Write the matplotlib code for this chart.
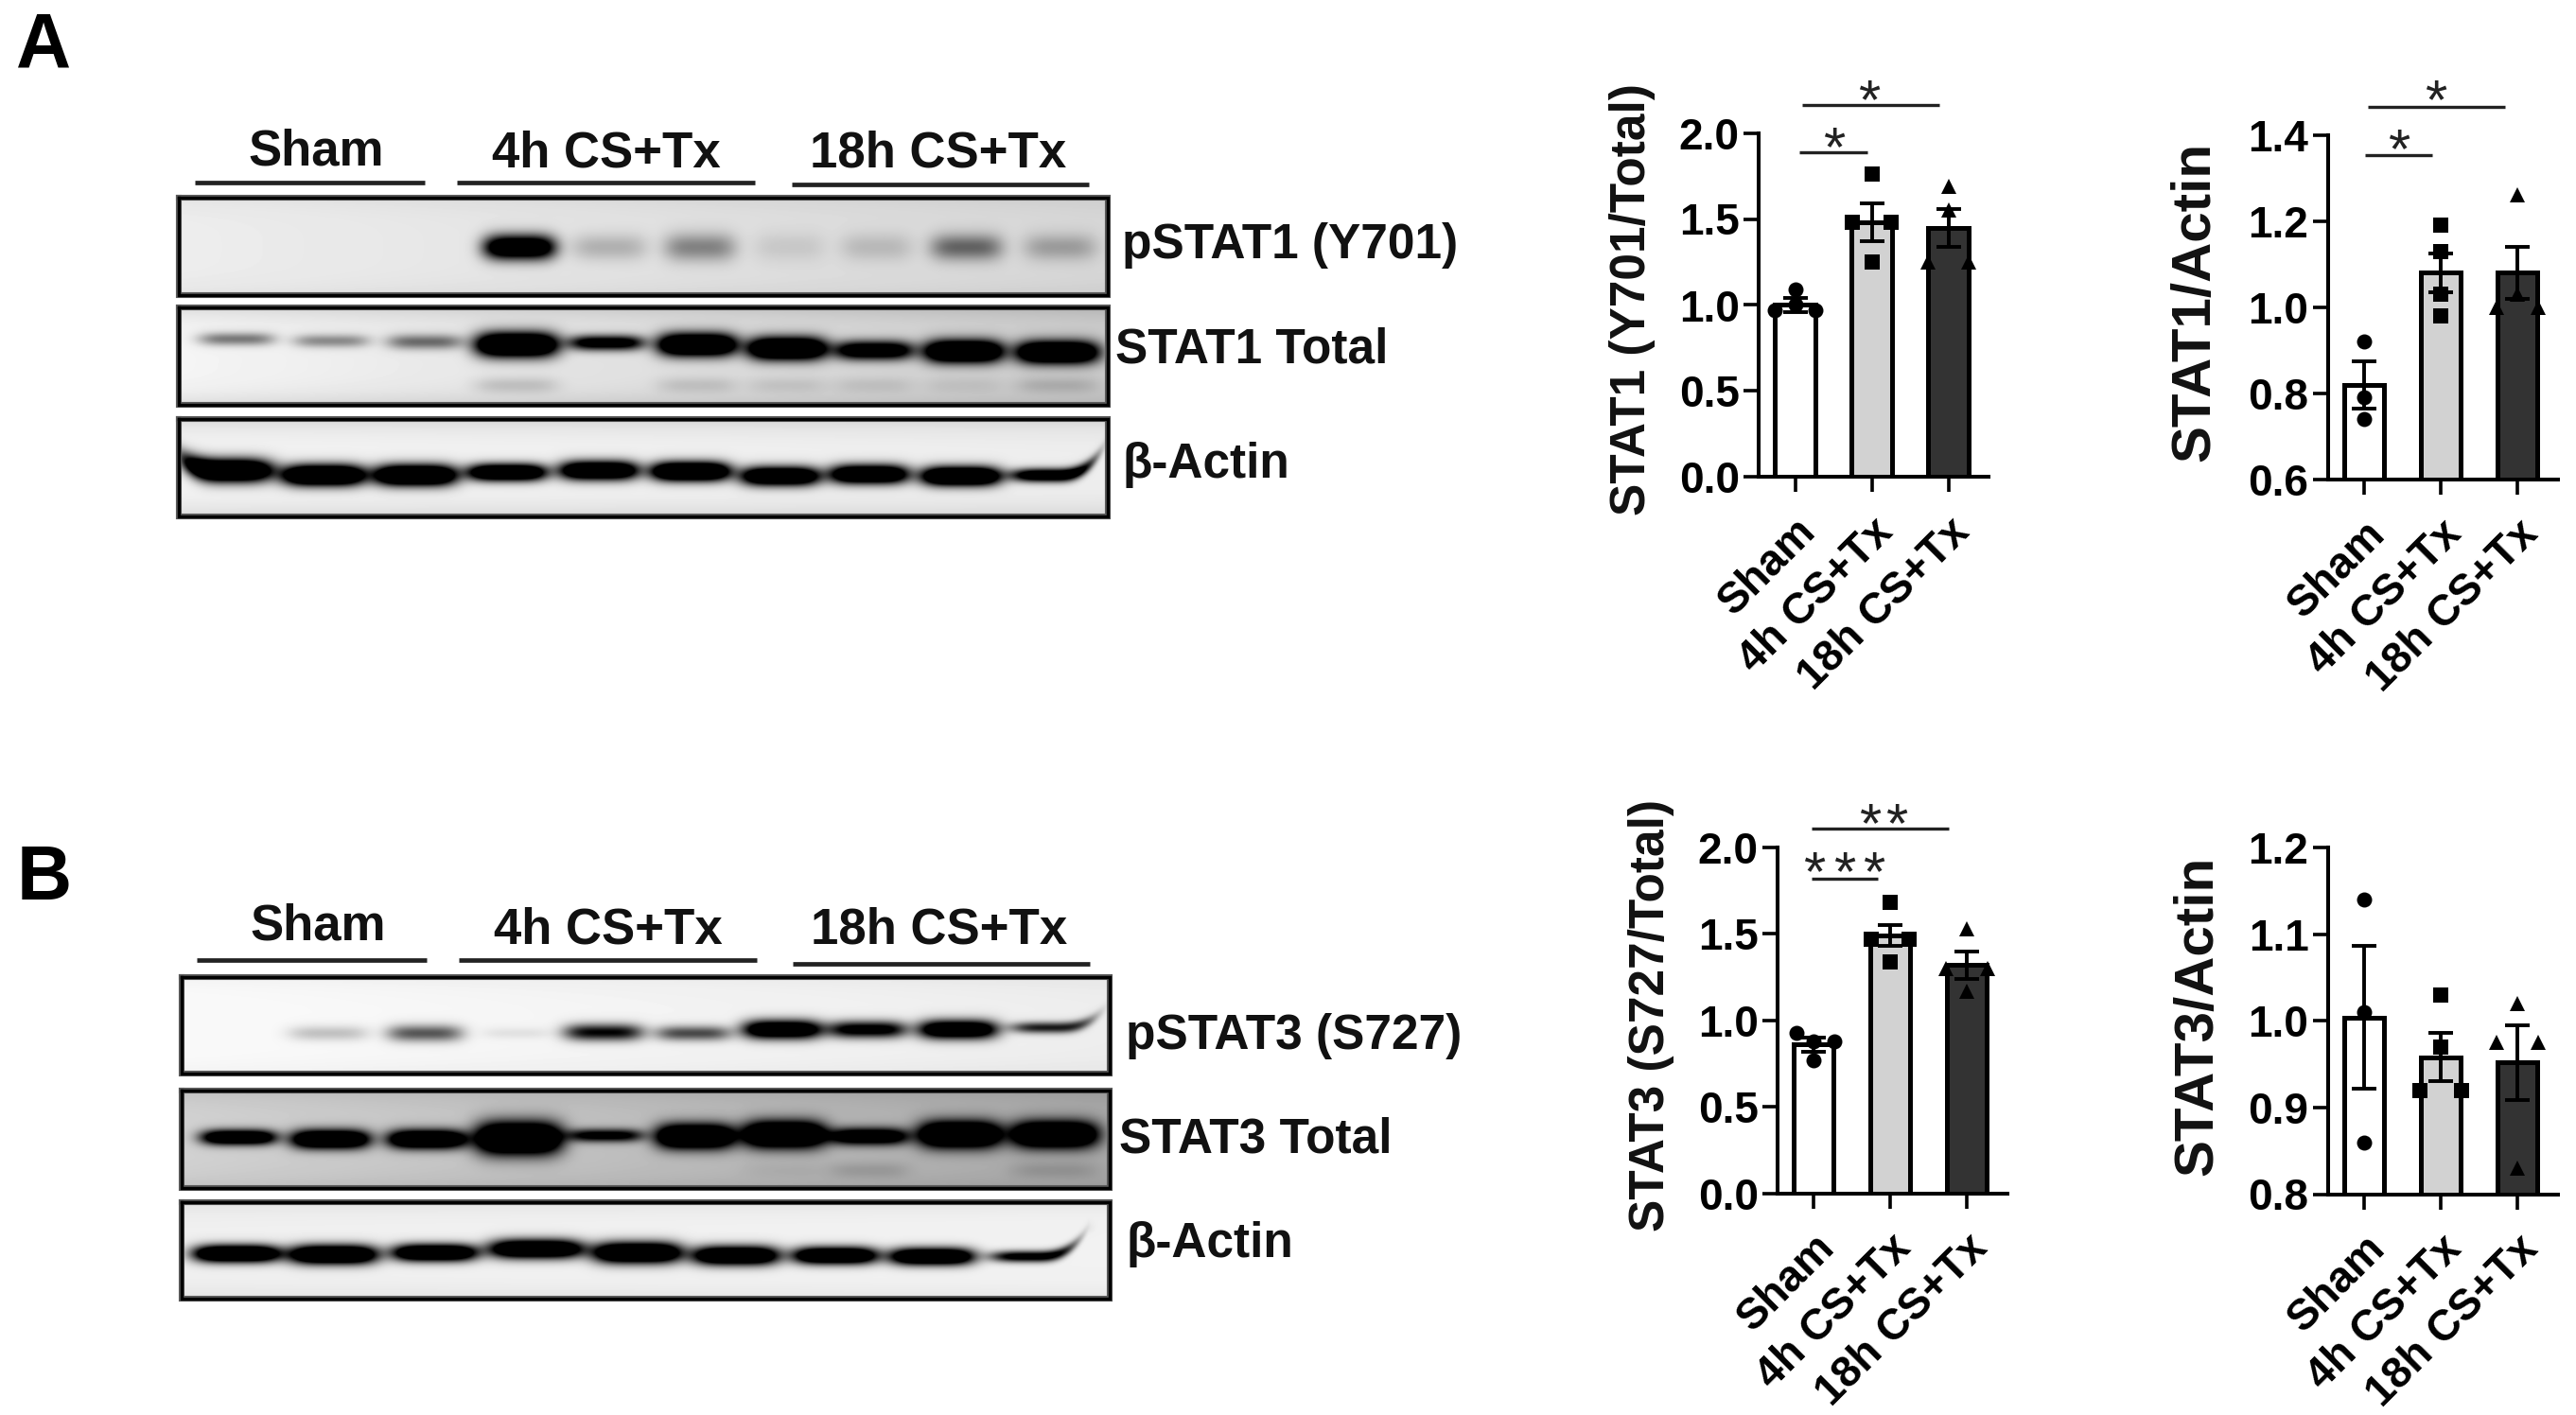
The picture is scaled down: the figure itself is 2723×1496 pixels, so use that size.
import numpy as np
import matplotlib
matplotlib.use("Agg")
import matplotlib.pyplot as plt

plt.rcParams['font.family'] = ['Liberation Sans', 'DejaVu Sans']
plt.rcParams['font.weight'] = 'bold'

W, H = 2723, 1496
fig = plt.figure(figsize=(W / 100, H / 100), dpi=100)
page = fig.add_axes([0, 0, 1, 1])
page.set_xlim(0, W)
page.set_ylim(H, 0)
page.axis('off')

# ---------------- chart values ----------------
GROUPS = ['Sham', '4h CS+Tx', '18h CS+Tx']
BAR_COLORS = ['white', '#d2d2d2', '#333333']
MARKERS = ['o', 's', '^']

# STAT1 (Y701/Total)
s1t_means = [1.00, 1.48, 1.45]
s1t_sem = [0.04, 0.11, 0.11]
s1t_pts = [[1.09, 1.00, 0.97, 0.97], [1.76, 1.48, 1.48, 1.25], [1.69, 1.55, 1.25, 1.25]]
# STAT1/Actin
s1a_means = [0.82, 1.08, 1.08]
s1a_sem = [0.055, 0.045, 0.06]
s1a_pts = [[0.92, 0.79, 0.74], [1.19, 1.13, 1.03, 0.98], [1.26, 1.03, 1.00, 1.00]]
# STAT3 (S727/Total)
s3t_means = [0.86, 1.49, 1.32]
s3t_sem = [0.04, 0.06, 0.08]
s3t_pts = [[0.93, 0.88, 0.88, 0.77], [1.68, 1.47, 1.47, 1.34], [1.53, 1.30, 1.30, 1.17]]
# STAT3/Actin
s3a_means = [1.004, 0.958, 0.952]
s3a_sem = [0.082, 0.028, 0.043]
s3a_pts = [[1.14, 1.01, 0.86], [1.03, 0.97, 0.92, 0.92], [1.02, 0.975, 0.975, 0.83]]

# blot band intensities, one per lane
pstat1_int = [0.0, 0.0, 0.0, 1.6, 0.22, 0.42, 0.1, 0.16, 0.55, 0.28]
stat1_int = [0.5, 0.42, 0.55, 2.0, 1.3, 2.0, 2.0, 1.5, 2.0, 2.0]
stat1_low = [0, 0, 0, 0.16, 0, 0.13, 0.1, 0.1, 0.08, 0.16]
actin1_int = [2.0, 2.0, 2.0, 1.8, 1.8, 2.0, 1.8, 1.8, 2.0, 1.5]
pstat3_int = [0.0, 0.22, 0.65, 0.08, 1.0, 0.7, 1.6, 1.2, 1.6, 0.9]
stat3_int = [1.7, 1.9, 1.9, 2.2, 1.2, 2.1, 2.2, 1.6, 2.2, 2.2]
stat3_low = [0, 0, 0, 0, 0, 0, 0.05, 0.14, 0, 0.14]
actin3_int = [1.9, 1.9, 1.8, 1.8, 1.9, 1.8, 1.8, 1.8, 1.2]

BLOT_LABELS_A = ['pSTAT1 (Y701)', 'STAT1 Total', 'β-Actin']
BLOT_LABELS_B = ['pSTAT3 (S727)', 'STAT3 Total', 'β-Actin']


# ---------------- blots ----------------
def blot(box, bg, lanes, ints, y0, hw, hh, low=None, low_y=0, curl=None):
    x0, x1, yt, yb = box
    xx, yy = np.meshgrid(np.arange(x0, x1), np.arange(yt, yb))
    fx = (xx - x0) / (x1 - x0)
    fy = (yy - yt) / (yb - yt)
    base = bg[0] + (bg[1] - bg[0]) * fx + bg[2] * (np.abs(2 * fy - 1) ** 4)
    dens = np.zeros_like(base, dtype=float)
    for i, (cx, a) in enumerate(zip(lanes, ints)):
        c = 0 if curl is None else curl[i]
        u = (xx - cx) / hw[i]
        yc = y0[i] + c * np.clip(np.sign(c) * 0 + u, -1.3, 1.3) ** 3 * 0 + (
            abs(c) * -1 * np.clip(u * np.sign(c), 0, 1.3) ** 3)
        dens += a * np.exp(-np.abs(u) ** 4) * np.exp(-((yy - yc) / hh[i]) ** 2)
        if low is not None and low[i] > 0:
            dens += low[i] * np.exp(-np.abs(u) ** 4) * np.exp(-((yy - low_y) / 9.0) ** 2)
    img = base * (1 - np.clip(dens, 0, 1))
    page.imshow(img, cmap='gray', vmin=0, vmax=1, extent=(x0, x1, yb, yt),
                interpolation='bilinear', aspect='auto', zorder=1)
    page.plot([x0, x1, x1, x0, x0], [yt, yt, yb, yb, yt], color='#5a5a5a', lw=4.4, zorder=2,
              solid_joinstyle='miter')
    page.plot([x0, x1, x1, x0, x0], [yt, yt, yb, yb, yt], color='black', lw=2.4, zorder=3,
              solid_joinstyle='miter')
    page.set_xlim(0, W)
    page.set_ylim(H, 0)


a_x = np.array([245, 343, 440, 535, 628, 722, 815, 905, 998, 1095]) / 0.98
n = 10
# A: pSTAT1
blot((189, 1171, 209, 312), (0.93, 0.84, -0.04), a_x + 3,
     pstat1_int, [261] * n, [38, 40, 38, 38, 40, 38, 38, 38, 38, 38], [13, 15, 15, 13, 14, 15, 16, 15, 14, 14])
# A: STAT1
blot((189, 1171, 325, 428), (0.96, 0.80, -0.10), a_x,
     stat1_int, [358, 360, 361, 364, 362, 364, 368, 370, 371, 372], [40, 40, 40, 44, 40, 42, 42, 42, 42, 44],
     [7, 7, 8, 13, 8, 12, 12, 10, 12, 12], low=stat1_low, low_y=407)
# A: actin
blot((189, 1171, 443, 546), (0.95, 0.93, -0.10),
     np.array([235, 335, 430, 525, 620, 715, 808, 900, 995, 1090]) / 0.98,
     actin1_int, [497, 502, 502, 499, 497, 498, 503, 501, 503, 502],
     [48, 44, 44, 42, 42, 42, 42, 42, 42, 44], [12, 11, 11, 9, 10, 10, 10, 10, 10, 7],
     curl=[-12, 0, 0, 0, 0, 0, 0, 0, 0, 16])

# B: pSTAT3
b_x = np.array([245, 340, 440, 535, 625, 718, 810, 898, 992, 1090]) / 0.98
blot((192, 1173, 1033, 1135), (0.98, 0.93, -0.03), b_x,
     pstat3_int, [1091, 1092, 1092, 1092, 1091, 1092, 1088, 1088, 1088, 1086],
     [40, 42, 40, 36, 42, 40, 42, 42, 42, 44], [8, 8, 9, 6, 9, 8, 10, 9, 10, 6],
     curl=[0, 0, 0, 0, 0, 0, 0, 0, 0, 10])
# B: STAT3
blot((192, 1173, 1153, 1256), (0.82, 0.66, -0.06), b_x + 2,
     stat3_int, [1202, 1204, 1204, 1203, 1200, 1201, 1199, 1201, 1199, 1199],
     [40, 42, 42, 46, 40, 42, 44, 42, 44, 46], [8, 10, 10, 17, 7, 13, 14, 9, 14, 14],
     low=stat3_low, low_y=1237)
# B: actin
blot((192, 1173, 1271, 1373), (0.94, 0.95, -0.05),
     np.array([245, 345, 450, 555, 660, 762, 865, 965, 1070]) / 0.98,
     actin3_int, [1325, 1326, 1324, 1320, 1324, 1327, 1327, 1328, 1328],
     [46, 47, 45, 50, 47, 46, 45, 45, 45], [9, 10, 9, 10, 11, 10, 9, 9, 6],
     curl=[0, 0, 0, 0, 0, 0, 0, 0, 14])

# group headers and underlines
hdr = [('A', 193, 195, 160, 162, 162, 206, 449, 483, 798, 837, 1151),
       ('B', 1015, 1019, 979, 983, 983, 208, 451, 485, 800, 838, 1152)]
for _, ly1, ly2, t1, t2, t3, a1, a2, b1, b2, c1, c2 in hdr:
    page.plot([a1, a2], [ly1, ly1], color='#222222', lw=3.4, zorder=3, solid_capstyle='butt')
    page.plot([b1, b2], [ly1, ly1], color='#222222', lw=3.4, zorder=3, solid_capstyle='butt')
    page.plot([c1, c2], [ly2, ly2], color='#222222', lw=3.4, zorder=3, solid_capstyle='butt')
    for g, cx, ty in zip(GROUPS, [(a1 + a2) / 2 - 1 + 8, (b1 + b2) / 2, (c1 + c2) / 2 - 2], [t1, t2, t3]):
        page.text(cx, ty, g, ha='center', va='center', fontsize=38, color='#111111')

for lab, (x, y) in zip(BLOT_LABELS_A, [(1186, 259), (1179, 370), (1186, 491)]):
    page.text(x, y, lab, ha='left', va='center', fontsize=37, color='#111111')
for lab, (x, y) in zip(BLOT_LABELS_B, [(1190, 1096), (1183, 1205), (1190, 1316)]):
    page.text(x, y, lab, ha='left', va='center', fontsize=37, color='#111111')

page.text(46, 49, 'A', ha='center', va='center', fontsize=58, color='black')
page.text(47, 930, 'B', ha='center', va='center', fontsize=58, color='black')


# ---------------- bar panels ----------------
def panel(x_axis, x_first, y_top, y_bot, ylim, yticks, means, sem, pts, offs, ylabel, lab_xy, lab_size, sig):
    step = 81.0
    left = (x_axis - x_first) / step
    right = left + 3.0
    x_right = x_axis + 3.0 * step
    ax = fig.add_axes([x_axis / W, 1 - y_bot / H, (x_right - x_axis) / W, (y_bot - y_top) / H])
    ax.set_facecolor('none')
    ax.set_xlim(left, right)
    ax.set_ylim(*ylim)
    xs = np.arange(3)
    ax.bar(xs, means, width=0.53, color=BAR_COLORS, edgecolor='black', linewidth=3.6,
           bottom=0, zorder=2)
    ax.errorbar(xs, means, yerr=sem, fmt='none', ecolor='black', elinewidth=2.8,
                capsize=9.5, capthick=2.8, zorder=3)
    for i in range(3):
        ax.plot(np.array(offs[i]) + i, pts[i], ls='none', marker=MARKERS[i], color='black',
                ms=11.5, mew=0, zorder=4, clip_on=False)
    for s in ('top', 'right'):
        ax.spines[s].set_visible(False)
    for s in ('left', 'bottom'):
        ax.spines[s].set_linewidth(2.9)
    ax.set_yticks(yticks)
    ax.set_yticklabels([f'{t:.1f}' for t in yticks], fontsize=33)
    ax.set_xticks(xs)
    ax.set_xticklabels(GROUPS, fontsize=33, rotation=45, ha='right', va='top', rotation_mode='anchor')
    ax.tick_params(axis='y', length=11.5, width=2.6, pad=3)
    ax.tick_params(axis='x', length=11.5, width=2.6, pad=14)
    page.text(lab_xy[0], lab_xy[1], ylabel, rotation=90, ha='center', va='center',
              fontsize=lab_size, color='#111111')
    for x1, x2, y, xstar, ystar, nstar, gap in sig:
        ax.plot([x1, x2], [y, y], color='#222222', lw=2.4, clip_on=False, zorder=5,
                solid_capstyle='butt')
        for k in range(nstar):
            ax.text(xstar + (k - (nstar - 1) / 2) * gap, ystar, '*', ha='center',
                    va='center_baseline', fontsize=43, fontweight='normal', color='#222222',
                    clip_on=False)
    return ax


off3 = [0, 0, 0]
off4 = [0, -0.25, 0.25, 0]
panel(1859, 1897.5, 140.5, 504.5, (0, 2), [0, .5, 1, 1.5, 2], s1t_means, s1t_sem, s1t_pts,
      [[0, 0, -0.27, 0.27], off4, [0, 0, -0.27, 0.27]],
      'STAT1 (Y701/Total)', (1726, 317), 37,
      [(0.09, 1.88, 2.162, 0.97, 2.20, 1, 0), (0.06, 0.95, 1.887, 0.51, 1.93, 1, 0)])
panel(2460.6, 2499, 142.7, 507, (0.6, 1.4), [.6, .8, 1, 1.2, 1.4], s1a_means, s1a_sem, s1a_pts,
      [off3, [0, 0, 0, 0], [0, 0, -0.27, 0.27]],
      'STAT1/Actin', (2320, 319), 42,
      [(0.05, 1.84, 1.466, 0.94, 1.485, 1, 0), (0.01, 0.89, 1.353, 0.45, 1.372, 1, 0)])
panel(1879, 1917, 896, 1261.6, (0, 2), [0, .5, 1, 1.5, 2], s3t_means, s3t_sem, s3t_pts,
      [[-0.22, 0.27, 0, 0], off4, [0, -0.27, 0.27, 0]],
      'STAT3 (S727/Total)', (1746, 1073), 37,
      [(-0.02, 1.77, 2.108, 0.91, 2.15, 2, 0.35), (-0.02, 0.84, 1.821, 0.40, 1.87, 3, 0.39)])
panel(2460.6, 2499, 896, 1262.5, (0.8, 1.2), [.8, .9, 1, 1.1, 1.2], s3a_means, s3a_sem, s3a_pts,
      [off3, [0, 0, -0.27, 0.27], [0, -0.27, 0.27, 0]],
      'STAT3/Actin', (2323, 1074), 42, [])

fig.savefig('out.png', dpi=100)
